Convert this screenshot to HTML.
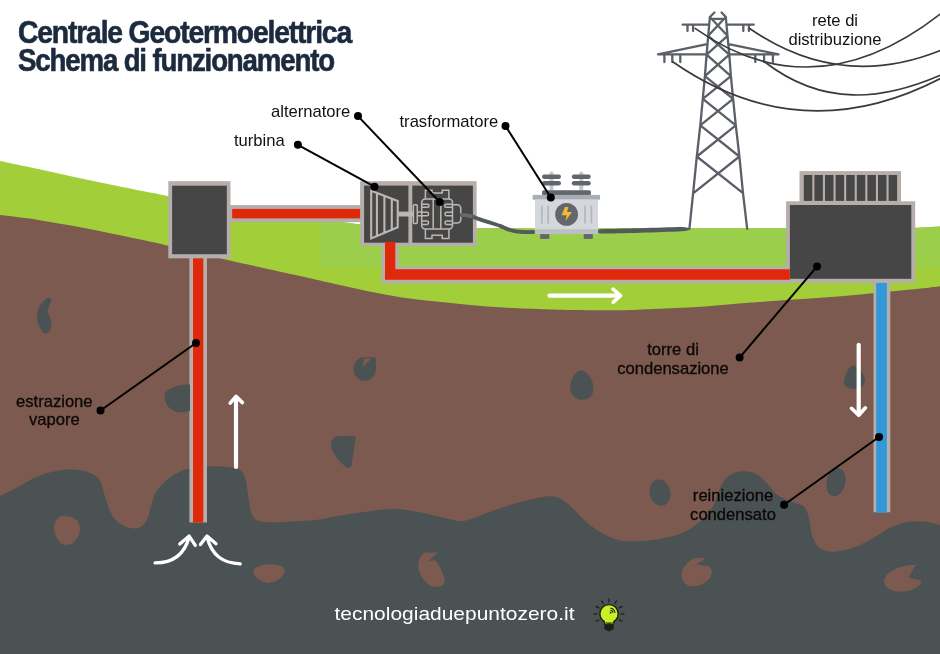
<!DOCTYPE html>
<html><head><meta charset="utf-8"><title>Centrale Geotermoelettrica</title>
<style>
html,body{margin:0;padding:0;background:#fff;}
body{width:940px;height:654px;overflow:hidden;font-family:"Liberation Sans",sans-serif;}
svg{display:block;will-change:transform;}
</style></head><body>
<svg width="940" height="654" viewBox="0 0 940 654">
<clipPath id="hill"><path d="M0.0,161.1 C6.4,162.4 25.5,166.4 38.3,169.1 C51.1,171.8 63.8,174.7 76.6,177.4 C89.4,180.1 102.1,182.8 114.9,185.4 C127.7,188.0 144.3,191.3 153.2,193.1 C162.1,194.9 160.7,194.7 168.5,196.3 C176.3,198.0 189.4,200.7 200.0,203.0 C210.6,205.3 217.0,207.4 232.0,210.0 C247.0,212.6 275.7,216.7 290.0,218.5 C304.3,220.3 309.2,220.1 318.0,220.7 C326.8,221.3 336.0,221.6 343.0,222.2 C350.0,222.8 350.5,223.4 360.0,224.2 C369.5,225.0 386.7,226.3 400.0,227.0 C413.3,227.7 390.0,228.0 440.0,228.2 C490.0,228.4 623.3,228.3 700.0,228.3 C776.7,228.3 863.3,228.1 900.0,228.0 C936.7,227.9 913.3,227.8 920.0,227.5 C926.7,227.2 936.7,226.7 940.0,226.5 L940,330 L0,330 Z"/></clipPath>
<path d="M0.0,161.1 C6.4,162.4 25.5,166.4 38.3,169.1 C51.1,171.8 63.8,174.7 76.6,177.4 C89.4,180.1 102.1,182.8 114.9,185.4 C127.7,188.0 144.3,191.3 153.2,193.1 C162.1,194.9 160.7,194.7 168.5,196.3 C176.3,198.0 189.4,200.7 200.0,203.0 C210.6,205.3 217.0,207.4 232.0,210.0 C247.0,212.6 275.7,216.7 290.0,218.5 C304.3,220.3 309.2,220.1 318.0,220.7 C326.8,221.3 336.0,221.6 343.0,222.2 C350.0,222.8 350.5,223.4 360.0,224.2 C369.5,225.0 386.7,226.3 400.0,227.0 C413.3,227.7 390.0,228.0 440.0,228.2 C490.0,228.4 623.3,228.3 700.0,228.3 C776.7,228.3 863.3,228.1 900.0,228.0 C936.7,227.9 913.3,227.8 920.0,227.5 C926.7,227.2 936.7,226.7 940.0,226.5 L940,330 L0,330 Z" fill="#a2ce3a"/>
<rect x="319.7" y="210" width="621" height="57.9" fill="#9ace4b" clip-path="url(#hill)"/>
<path d="M0.0,215.1 C6.4,215.9 25.5,218.0 38.3,219.9 C51.1,221.8 63.8,224.2 76.6,226.6 C89.4,229.0 102.1,231.7 114.9,234.3 C127.7,236.9 144.3,240.4 153.2,242.3 C162.1,244.2 160.7,243.9 168.5,245.8 C176.3,247.7 189.4,251.0 200.0,253.5 C210.6,256.0 215.3,257.2 232.0,261.0 C248.7,264.8 283.0,272.2 300.0,276.0 C317.0,279.8 322.7,281.2 334.0,283.8 C345.3,286.4 356.7,289.0 368.0,291.3 C379.3,293.6 390.7,295.7 402.0,297.4 C413.3,299.1 424.7,300.2 436.0,301.5 C447.3,302.8 458.7,303.9 470.0,304.9 C481.3,305.9 492.7,306.9 504.0,307.6 C515.3,308.3 526.7,308.6 538.0,309.0 C549.3,309.4 558.3,309.8 572.0,310.0 C585.7,310.2 606.3,310.5 620.0,310.3 C633.7,310.1 642.7,309.4 654.0,309.0 C665.3,308.6 676.7,308.3 688.0,307.6 C699.3,306.9 710.7,305.8 722.0,304.9 C733.3,304.0 744.7,303.0 756.0,302.2 C767.3,301.4 778.7,300.6 790.0,299.8 C801.3,299.0 812.7,298.2 824.0,297.4 C835.3,296.5 846.7,295.7 858.0,294.7 C869.3,293.7 880.7,292.4 892.0,291.3 C903.3,290.2 918.0,288.8 926.0,287.9 C934.0,287.0 937.7,286.5 940.0,286.2 L940,654 L0,654 Z" fill="#7d5a4f"/>
<path d="M0.0,496.2 C2.8,494.8 11.3,490.6 17.0,487.6 C22.7,484.6 28.3,480.6 34.0,478.0 C39.7,475.4 45.3,473.7 51.0,472.3 C56.7,470.9 62.3,469.8 68.0,469.6 C73.7,469.4 79.9,469.7 85.0,471.3 C90.1,472.9 95.3,474.6 98.7,479.0 C102.1,483.4 103.3,491.9 105.5,497.9 C107.7,503.9 109.2,510.4 112.0,514.9 C114.8,519.4 118.5,522.7 122.5,525.0 C126.5,527.3 132.1,529.0 136.0,528.5 C139.9,528.0 143.4,525.7 146.0,521.7 C148.6,517.7 149.7,509.8 151.5,504.7 C153.3,499.6 153.5,495.6 156.6,491.0 C159.7,486.4 164.9,481.1 170.0,477.4 C175.1,473.7 181.3,470.8 187.0,469.0 C192.7,467.2 198.3,466.9 204.0,466.5 C209.7,466.1 215.3,466.1 221.0,466.5 C226.7,466.9 234.0,467.2 238.0,469.0 C242.0,470.8 243.2,472.6 245.0,477.4 C246.8,482.2 247.3,491.6 248.5,497.9 C249.7,504.1 249.8,510.9 252.0,514.9 C254.2,518.9 255.8,520.6 262.0,521.7 C268.2,522.8 279.3,522.1 289.0,521.7 C298.7,521.3 312.5,520.4 320.0,519.5 C327.5,518.6 326.0,517.9 334.0,516.6 C342.0,515.3 357.8,512.8 368.0,511.5 C378.2,510.2 386.5,508.9 395.0,509.0 C403.5,509.1 411.0,510.6 419.0,512.0 C427.0,513.4 435.6,516.1 443.0,517.6 C450.4,519.1 456.1,521.8 463.4,521.0 C470.7,520.2 479.1,515.7 487.0,513.0 C494.9,510.3 502.5,507.2 511.0,504.7 C519.5,502.2 530.7,499.2 538.0,497.9 C545.3,496.6 549.8,495.7 555.0,496.8 C560.2,497.9 563.8,500.5 569.0,504.7 C574.2,508.9 580.3,516.9 586.0,521.7 C591.7,526.5 597.3,530.5 603.0,533.6 C608.7,536.7 613.8,539.2 620.0,540.4 C626.2,541.6 633.6,541.3 640.4,541.0 C647.2,540.7 654.2,539.9 661.0,538.7 C667.8,537.5 674.8,536.2 681.0,533.6 C687.2,531.0 692.8,527.7 698.0,523.4 C703.2,519.1 708.5,513.4 712.0,508.0 C715.5,502.6 716.5,495.8 718.7,491.0 C721.0,486.2 722.7,482.1 725.5,479.0 C728.3,475.9 732.3,473.6 735.7,472.3 C739.1,471.0 742.6,471.0 746.0,471.3 C749.4,471.6 752.7,472.1 756.0,474.0 C759.3,475.9 762.6,479.1 766.0,482.5 C769.4,485.9 772.6,491.4 776.6,494.5 C780.6,497.6 785.5,499.3 790.0,501.3 C794.5,503.3 800.6,503.6 803.8,506.4 C807.0,509.2 807.6,513.5 809.0,518.3 C810.4,523.1 810.3,530.2 812.0,535.0 C813.7,539.8 815.8,544.4 819.0,547.2 C822.2,550.0 825.6,551.5 831.0,551.7 C836.4,551.9 844.7,550.5 851.5,548.3 C858.3,546.1 865.2,542.3 872.0,538.7 C878.8,535.1 885.8,529.6 892.0,526.8 C898.2,524.0 903.3,522.6 909.0,521.7 C914.7,520.9 920.8,521.2 926.0,521.7 C931.2,522.2 937.7,524.5 940.0,525.0 L940,654 L0,654 Z" fill="#4a5253"/>
<path d="M709.9,17.0 L708.2,35.8 L706.6,54.7 L704.9,76.1 L702.8,98.8 L700.3,125.3 L696.8,156.5 L693.1,193.4 L689.4,228.8 M725.8,17.0 L727.5,35.8 L729.3,54.7 L730.9,76.1 L733.1,98.8 L735.8,125.3 L739.4,156.5 L743.0,193.2 L747.2,228.8 M709.9,17.0 L727.5,35.8 M725.8,17.0 L708.2,35.8 M708.2,35.8 L729.3,54.7 M727.5,35.8 L706.6,54.7 M706.6,54.7 L730.9,76.1 M729.3,54.7 L704.9,76.1 M704.9,76.1 L733.1,98.8 M730.9,76.1 L702.8,98.8 M702.8,98.8 L735.8,125.3 M733.1,98.8 L700.3,125.3 M700.3,125.3 L739.4,156.5 M735.8,125.3 L696.8,156.5 M696.8,156.5 L743.0,193.2 M739.4,156.5 L693.1,193.4 M709.9,18.9 L725.8,18.9 M709.9,17 L714.4,12.5 M725.8,17 L721.6,12.5 M682.7,24.7 L709,24.7 M726.6,24.7 L753.7,24.7 M687.5,24.7 L687.5,31 M693.1,24.7 L693.1,31 M743.3,24.7 L743.3,31 M748.9,24.7 L748.9,31 M658,54.3 L706.5,54.3 M729.6,54.3 L778.5,54.3 M705.8,44.4 L658,54.3 M729.8,44.4 L778.5,54.3 M664.4,54.3 L664.4,62 M672.3,54.3 L672.3,62 M680.3,54.3 L680.3,62 M755.3,54.3 L755.3,62 M764.1,54.3 L764.1,62 M772.9,54.3 L772.9,62" fill="none" stroke="#5b5f67" stroke-width="2.3" stroke-linecap="round" stroke-linejoin="round"/>
<path d="M694.7,28.1 C777.1,86.5 859.6,77.6 942.0,12.7" fill="none" stroke="#3a3a3a" stroke-width="1.6"/>
<path d="M748.9,28.0 C813.3,72.8 877.6,76.2 942.0,49.8" fill="none" stroke="#3a3a3a" stroke-width="1.6"/>
<path d="M764.1,61.5 C823.4,107.5 882.7,100.3 942.0,74.4" fill="none" stroke="#3a3a3a" stroke-width="1.6"/>
<path d="M672.3,61.5 C762.2,124.1 852.1,124.8 942.0,77.7" fill="none" stroke="#3a3a3a" stroke-width="1.6"/>
<rect x="189.4" y="250.0" width="17.6" height="272.5" fill="#b5aeaa" />
<rect x="193.0" y="250.0" width="10.3" height="272.5" fill="#e0290b" />
<rect x="228.0" y="205.1" width="136.0" height="17.1" fill="#b5aeaa" />
<rect x="232.2" y="208.9" width="131.8" height="9.5" fill="#e0290b" />
<path d="M381.4,244 L381.4,283.4 L790,283.4 L790,266.6 L398.6,266.6 L398.6,244 Z" fill="#b5aeaa"/>
<rect x="873.5" y="278.0" width="16.8" height="234.2" fill="#b5aeaa" />
<rect x="876.2" y="282.6" width="10.7" height="230.2" fill="#3398d8" />
<rect x="168.3" y="181.2" width="62.2" height="77.1" fill="#b5aeaa" />
<rect x="172.1" y="185.7" width="54.7" height="68.5" fill="#464646" />
<rect x="360.1" y="181.2" width="116.5" height="64.8" fill="#b5aeaa" />
<rect x="364.1" y="185.6" width="44.3" height="57.1" fill="#464646" />
<rect x="412.3" y="185.6" width="60.6" height="57.1" fill="#464646" />
<path d="M371.2,190.8 L397.7,201 L397.7,227.3 L371.2,238.5 Z M376.9,193 V236.1 M384.4,195.9 V232.9 M391.8,198.7 V229.8" fill="none" stroke="#bdb7b3" stroke-width="2.1" stroke-linejoin="miter"/>
<rect x="398.4" y="211.6" width="15.0" height="4.9" fill="#bdb7b3" />
<g fill="none" stroke="#bdb7b3" stroke-width="1.5"><rect x="413.4" y="204.7" width="3.9" height="18.9" rx="1"/><path d="M417.3,212.1 H421.7 M417.3,215.8 H421.7"/><rect x="421.7" y="199.1" width="30.8" height="29.9" rx="3.5"/><path d="M425.4,199.1 V190.3 H432 V193 H442.2 V190.3 H448.9 V199.1"/><path d="M425.4,229 V238.6 H432 V235.3 H442.2 V238.6 H448.9 V229"/><path d="M433.2,199.1 V229 M440.8,199.1 V229"/><path d="M421.7,204.3 H427.6 A1.4,1.4 0 0 1 427.6,207.2 H421.7"/><path d="M452.5,204.3 H446.1 A1.4,1.4 0 0 0 446.1,207.2 H452.5"/><path d="M421.7,212.3 H427.2 A1.8,1.8 0 0 1 427.2,215.8 H421.7"/><path d="M452.5,212.3 H446.4 A1.8,1.8 0 0 0 446.4,215.8 H452.5"/><path d="M421.7,221.1 H427.2 A1.8,1.8 0 0 1 427.2,224.6 H421.7"/><path d="M452.5,221.1 H446.4 A1.8,1.8 0 0 0 446.4,224.6 H452.5"/><path d="M452.5,204.7 H457.3 A3.5,3.5 0 0 1 460.8,208.2 V219.6 A3.5,3.5 0 0 1 457.3,223.1 H452.5"/></g>
<path d="M461.2,215.0 C462.6,215.1 466.8,215.1 469.4,215.7 C472.0,216.2 473.8,217.2 477.0,218.3 C480.2,219.4 484.7,220.9 488.5,222.2 C492.3,223.4 497.0,224.7 500.0,225.8 C503.0,226.9 504.3,227.9 506.7,228.8 C509.1,229.7 511.5,230.6 514.4,231.1 C517.3,231.6 520.9,231.8 524.0,232.0 C527.1,232.2 531.8,232.0 533.3,232.0" fill="none" stroke="#525a5c" stroke-width="3.9" stroke-linecap="round"/>
<path d="M461.2,215 Q467,215.3 472.6,216.6" fill="none" stroke="#686b6d" stroke-width="3.3"/>
<path d="M600,229.3 C620,228.9 660,227.6 682,227.1 Q689.5,227.3 689.3,229.3 Q689,230.8 682,231.2 C660,232.3 620,233.4 600,233.5 A2.1,2.1 0 0 1 600,229.3 Z" fill="#525a5c"/>
<rect x="549.5" y="171.5" width="4.0" height="19.5" fill="#c4c7cc" rx="2"/>
<rect x="542.0" y="174.6" width="19.0" height="4.3" fill="#63666c" rx="2.1"/>
<rect x="542.0" y="181.1" width="19.0" height="4.3" fill="#63666c" rx="2.1"/>
<rect x="579.3" y="171.5" width="4.0" height="19.5" fill="#c4c7cc" rx="2"/>
<rect x="571.8" y="174.6" width="19.0" height="4.3" fill="#63666c" rx="2.1"/>
<rect x="571.8" y="181.1" width="19.0" height="4.3" fill="#63666c" rx="2.1"/>
<rect x="542.1" y="190.2" width="48.8" height="5.3" fill="#63666c" rx="1.5"/>
<rect x="532.7" y="194.9" width="67.3" height="4.8" fill="#a9adb6" />
<rect x="535.0" y="199.7" width="63.0" height="29.9" fill="#d4d7dc" />
<rect x="535.0" y="229.6" width="63.0" height="4.5" fill="#bcbfc7" />
<rect x="540.2" y="234.1" width="9.1" height="4.8" fill="#63666c" />
<rect x="583.7" y="234.1" width="9.1" height="4.8" fill="#63666c" />
<rect x="541.0" y="205.5" width="1.7" height="18.2" fill="#b3b6bd" rx="0.8"/>
<rect x="547.3" y="205.5" width="1.7" height="18.2" fill="#b3b6bd" rx="0.8"/>
<rect x="584.1" y="205.5" width="1.7" height="18.2" fill="#b3b6bd" rx="0.8"/>
<rect x="590.6" y="205.5" width="1.7" height="18.2" fill="#b3b6bd" rx="0.8"/>
<circle cx="566.6" cy="214.4" r="11.4" fill="#63666c"/>
<polygon points="564.9,207.1 568.4,207.1 567.1,212.0 572.0,212.0 565.5,220.9 566.6,215.3 561.6,215.3" fill="#f7b733"/>
<rect x="799.5" y="171.1" width="101.5" height="31.9" fill="#b5aeaa" />
<rect x="803.8" y="175.0" width="8.5" height="25.9" fill="#464646" />
<rect x="814.4" y="175.0" width="8.5" height="25.9" fill="#464646" />
<rect x="825.0" y="175.0" width="8.5" height="25.9" fill="#464646" />
<rect x="835.6" y="175.0" width="8.5" height="25.9" fill="#464646" />
<rect x="846.2" y="175.0" width="8.5" height="25.9" fill="#464646" />
<rect x="856.8" y="175.0" width="8.5" height="25.9" fill="#464646" />
<rect x="867.4" y="175.0" width="8.5" height="25.9" fill="#464646" />
<rect x="878.0" y="175.0" width="8.5" height="25.9" fill="#464646" />
<rect x="888.6" y="175.0" width="8.5" height="25.9" fill="#464646" />
<rect x="786.1" y="201.3" width="129.1" height="81.5" fill="#b5aeaa" />
<rect x="789.9" y="205.0" width="121.4" height="73.8" fill="#464646" />
<path d="M385,241.7 L385,279.7 L789.8,279.7 L789.8,269.3 L395.3,269.3 L395.3,241.7 Z" fill="#e0290b"/>
<path d="M47.5,298 Q39,303 37.3,313 Q36,325 43.75,333 Q47,334.5 50,331 Q52,326 51.25,321 Q50,316 47.5,312 Q49,305 51.5,300 Q50,297 47.5,298Z" fill="#4a5253"/>
<path d="M190,384.5 Q180,384 172.5,387.5 Q164,391 164.5,397 Q165,404 170,408.5 Q175,412.5 181,412.5 L190,411 Z" fill="#4a5253"/>
<path d="M360.5,357.5 L375.4,357.2 Q377,364 375.7,371.3 Q374,378 368.8,380.2 Q363,381.5 359.2,379.5 Q354.5,376 353.7,371.3 Q353,366 355,363 Q357,359.5 360.5,357.5Z" fill="#4a5253"/>
<path d="M364.5,358.8 L371.5,358.3 L362,368 Z" fill="#7d5a4f"/>
<path d="M581.5,370.3 Q588,372 592,381 Q595.5,390 591,396 Q586,401 579,399.5 Q571.5,397 570.2,389 Q570,380 574.5,374.5 Q577.5,370.5 581.5,370.3Z" fill="#4a5253"/>
<path d="M853.3,365.6 Q859,367 862.8,373.6 Q865.5,378 864.9,381 Q864,386 859.9,388.1 Q854,390 849,388.1 Q844,386 843.9,382 Q844,377 846.8,372.1 Q849.5,366.5 853.3,365.6Z" fill="#4a5253"/>
<path d="M337,436.3 L355.9,436 L351.5,466 Q350,468.5 346.5,467.5 Q338,461 332.5,451 Q328,440 337,436.3 Z" fill="#4a5253"/>
<ellipse cx="660.0" cy="492.5" rx="10.3" ry="13.4" fill="#4a5253" transform="rotate(-12 660.0 492.5)"/>
<ellipse cx="836.0" cy="482.1" rx="9.4" ry="14.2" fill="#4a5253" transform="rotate(13 836.0 482.1)"/>
<path d="M60,516.5 Q66,515 73,517.5 Q80,521 80,529 Q79,538 73,543 Q67,546.5 61,543.5 Q55,538 54,529 Q54,519.5 60,516.5Z" fill="#7d5a4f"/>
<path d="M254,569 Q260,564.5 270,564.3 Q281,564.5 284.5,568.5 Q286,573 280,578.5 Q273,583.5 266,582.8 Q257,580.5 253.6,573 Q253,570.5 254,569Z" fill="#7d5a4f"/>
<path d="M424.4,552.4 L438.2,552.4 L428.5,561.1 L435,560.2 Q441,566 444.6,579 Q445,585 441.4,585.8 Q436,587.5 431,586 Q423,582 418.5,570 Q417,558 424.4,552.4Z" fill="#7d5a4f"/>
<path d="M687.5,562.9 Q692,558.5 696.7,557.9 L705.9,557.9 L696.2,564.8 L707.7,565.7 Q711.5,568 711.8,571.2 Q712,575 709.5,578.5 Q706,583 700.4,584.9 Q694,587 689.4,585.9 Q684,584 682.5,579.4 Q681,575 682,571.2 Q683.5,566.5 687.5,562.9Z" fill="#7d5a4f"/>
<path d="M915.5,564.8 L908.6,577.6 L921.3,580.4 Q921,584 918.7,585.9 Q914,589.5 907.7,590.9 Q902,592 896.7,591.4 Q890.5,590.5 887.5,587.7 Q884,584.5 883.9,580.4 Q884.5,577 887.5,573.9 Q892,570 898.5,567.5 Q906,565 915.5,564.8Z" fill="#7d5a4f"/>
<path d="M236,467 V398" stroke-width="4.2" stroke="#fff" fill="none" stroke-linecap="round" stroke-linejoin="round"/><path d="M230.2,403.2 L236,396.3 L242.4,402.6" stroke-width="3.6" stroke="#fff" fill="none" stroke-linecap="round" stroke-linejoin="round"/>
<path d="M549.5,295.7 H619" stroke-width="4.2" stroke="#fff" fill="none" stroke-linecap="round" stroke-linejoin="round"/><path d="M613,289.2 L620.6,295.7 L613.3,302.2" stroke-width="3.6" stroke="#fff" fill="none" stroke-linecap="round" stroke-linejoin="round"/>
<path d="M858.7,344.8 V414" stroke-width="4.2" stroke="#fff" fill="none" stroke-linecap="round" stroke-linejoin="round"/><path d="M851.5,408.3 L858.7,415.3 L865.4,407.8" stroke-width="3.6" stroke="#fff" fill="none" stroke-linecap="round" stroke-linejoin="round"/>
<path d="M155.1,562.9 C172,563 184,556 189.2,537 M179.8,544.1 L189.2,536.1 L195.3,545.4" stroke-width="3.3" stroke="#fff" fill="none" stroke-linecap="round" stroke-linejoin="round"/>
<path d="M240.2,563.8 C223,563 212,556 207,537 M200.4,544.6 L207,536.1 L216,543.7" stroke-width="3.3" stroke="#fff" fill="none" stroke-linecap="round" stroke-linejoin="round"/>
<path d="M358.0,116.1 L439.7,202.0" stroke="#000" stroke-width="2" fill="none"/>
<circle cx="358.0" cy="116.1" r="4.0" fill="#000"/>
<circle cx="439.7" cy="202.0" r="4.0" fill="#000"/>
<path d="M297.9,144.8 L374.5,186.7" stroke="#000" stroke-width="2" fill="none"/>
<circle cx="297.9" cy="144.8" r="4.0" fill="#000"/>
<circle cx="374.5" cy="186.7" r="4.0" fill="#000"/>
<path d="M505.5,126.0 L550.8,197.5" stroke="#000" stroke-width="2" fill="none"/>
<circle cx="505.5" cy="126.0" r="4.0" fill="#000"/>
<circle cx="550.8" cy="197.5" r="4.0" fill="#000"/>
<path d="M817.1,266.4 L739.6,357.6" stroke="#000" stroke-width="2" fill="none"/>
<circle cx="817.1" cy="266.4" r="4.0" fill="#000"/>
<circle cx="739.6" cy="357.6" r="4.0" fill="#000"/>
<path d="M879.0,437.0 L784.1,504.7" stroke="#000" stroke-width="2" fill="none"/>
<circle cx="879.0" cy="437.0" r="4.0" fill="#000"/>
<circle cx="784.1" cy="504.7" r="4.0" fill="#000"/>
<path d="M196.0,343.0 L100.5,410.5" stroke="#000" stroke-width="2" fill="none"/>
<circle cx="196.0" cy="343.0" r="4.0" fill="#000"/>
<circle cx="100.5" cy="410.5" r="4.0" fill="#000"/>
<text x="271.0" y="117.0" font-family="Liberation Sans, sans-serif" font-size="16.6" text-anchor="start" fill="#111" font-weight="normal">alternatore</text>
<text x="234.0" y="146.3" font-family="Liberation Sans, sans-serif" font-size="16.6" text-anchor="start" fill="#111" font-weight="normal">turbina</text>
<text x="399.5" y="126.7" font-family="Liberation Sans, sans-serif" font-size="16.6" text-anchor="start" fill="#111" font-weight="normal">trasformatore</text>
<text x="835.0" y="25.7" font-family="Liberation Sans, sans-serif" font-size="16.6" text-anchor="middle" fill="#111" font-weight="normal">rete di</text>
<text x="835.0" y="45.0" font-family="Liberation Sans, sans-serif" font-size="16.6" text-anchor="middle" fill="#111" font-weight="normal">distribuzione</text>
<text x="673.0" y="354.8" font-family="Liberation Sans, sans-serif" font-size="16.6" text-anchor="middle" fill="#0c0806" font-weight="normal" stroke="#0c0806" stroke-width="0.30">torre di</text>
<text x="673.0" y="373.5" font-family="Liberation Sans, sans-serif" font-size="16.6" text-anchor="middle" fill="#0c0806" font-weight="normal" stroke="#0c0806" stroke-width="0.30">condensazione</text>
<text x="733.0" y="501.3" font-family="Liberation Sans, sans-serif" font-size="16.6" text-anchor="middle" fill="#0c0806" font-weight="normal" stroke="#0c0806" stroke-width="0.30">reiniezione</text>
<text x="733.0" y="520.3" font-family="Liberation Sans, sans-serif" font-size="16.6" text-anchor="middle" fill="#0c0806" font-weight="normal" stroke="#0c0806" stroke-width="0.30">condensato</text>
<text x="54.3" y="406.6" font-family="Liberation Sans, sans-serif" font-size="16.6" text-anchor="middle" fill="#0c0806" font-weight="normal" stroke="#0c0806" stroke-width="0.30">estrazione</text>
<text x="54.3" y="425.4" font-family="Liberation Sans, sans-serif" font-size="16.6" text-anchor="middle" fill="#0c0806" font-weight="normal" stroke="#0c0806" stroke-width="0.30">vapore</text>
<g font-family="Liberation Sans, sans-serif" font-weight="bold" font-size="31" fill="#1b2a3d" stroke="#1b2a3d" stroke-width="0.6" letter-spacing="-1.3"><text x="18" y="42.8" textLength="333" lengthAdjust="spacingAndGlyphs">Centrale Geotermoelettrica</text><text x="18" y="70.8" textLength="316" lengthAdjust="spacingAndGlyphs">Schema di funzionamento</text></g>
<text x="334.5" y="619.6" font-family="Liberation Sans, sans-serif" font-size="19.0" text-anchor="start" fill="#fff" font-weight="normal" textLength="240.0" lengthAdjust="spacingAndGlyphs">tecnologiaduepuntozero.it</text>
<path d="M619.4,619.9 L622.0,621.3 M621.0,613.9 L623.9,613.9 M619.4,607.9 L622.0,606.4 M615.0,603.5 L616.5,600.9 M609.0,601.9 L609.0,599.0 M603.0,603.5 L601.6,600.9 M598.7,607.9 L596.1,606.4 M597.0,613.9 L594.1,613.9 M598.7,619.9 L596.1,621.3" stroke="#1a2016" stroke-width="1.3" fill="none" stroke-linecap="round"/>
<path d="M604.4,623.6 L613.7,623.6 L613.7,629.3 L609.05,631.6 L604.4,629.3 Z" fill="#1a2016"/>
<path d="M603.6,620.5 L604.6,624.2 H613.5 L614.5,620.5 Z" fill="#c8f028" stroke="#1a2016" stroke-width="1.2"/>
<circle cx="609.05" cy="613.85" r="9.2" fill="#c8f028" stroke="#1a2016" stroke-width="1.4"/>
<path d="M604.9,621.3 H613.2" stroke="#c8f028" stroke-width="2.4"/>
<circle cx="610.6" cy="612.7" r="0.9" fill="#1a2016"/>
<path d="M610.4,610.3 A2.4,2.4 0 0 1 612.9,612.8 M610.3,608.3 A4.4,4.4 0 0 1 614.9,612.9" stroke="#1a2016" stroke-width="1.1" fill="none"/>
</svg>
</body></html>
